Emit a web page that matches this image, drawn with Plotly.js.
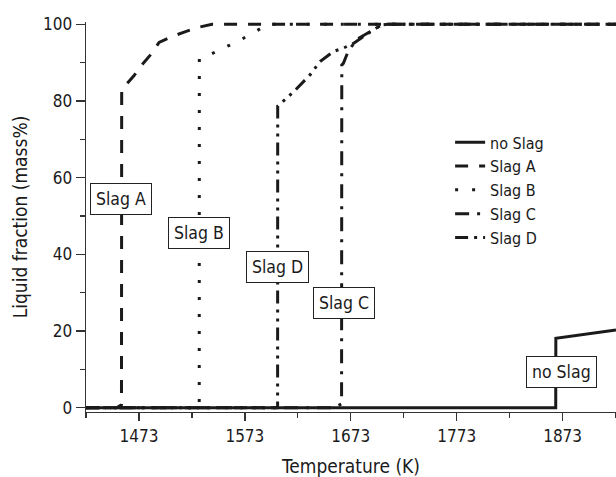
<!DOCTYPE html>
<html>
<head>
<meta charset="utf-8">
<script src="https://cdn.plot.ly/plotly-3.0.1.min.js"></script>
<style>
  html, body { margin: 0; padding: 0; background: #fff; }
  #chart { width: 616px; height: 477px; }
</style>
</head>
<body>
<div id="chart"></div>
<script>
// Series names
const seriesNames = ['no Slag', 'Slag A', 'Slag B', 'Slag C', 'Slag D'];

// Temperature (K) and liquid fraction (mass%) per series
const noSlagT = [1423, 1866.5, 1866.6, 1923.4];
const noSlagV = [0, 0, 18.1, 20.3];

const slagAT = [1423, 1452, 1456.5, 1456.7, 1460, 1468, 1476, 1485, 1492, 1504, 1517, 1529, 1542, 1923.4];
const slagAV = [0, 0, 0.8, 83, 84, 86.5, 89.5, 92.4, 95.3, 96.8, 98.1, 99.2, 100, 100];

const slagBT = [1423, 1529.9, 1530.0, 1536, 1550, 1564, 1579, 1591, 1595, 1923.4];
const slagBV = [0, 0, 91, 91.5, 93.5, 95.2, 97.5, 99.4, 100, 100];

const slagCT = [1423, 1656, 1664.3, 1664.5, 1666, 1671, 1680, 1692, 1702, 1708, 1923.4];
const slagCV = [0, 0, 1.0, 89.4, 89.8, 93.3, 96.3, 98.1, 99.8, 100, 100];

const slagDT = [1423, 1603.9, 1604.0, 1605.5, 1619, 1634.5, 1644, 1656.5, 1666, 1675.5, 1694, 1702, 1708, 1923.4];
const slagDV = [0, 0, 78.7, 79, 82.4, 86.8, 90.3, 92.9, 93.8, 95.0, 98.5, 99.8, 100, 100];

// Label boxes on the curves
const labelTexts = ['Slag A', 'Slag B', 'Slag D', 'Slag C', 'no Slag'];
const labelT = [1456.0, 1530.1, 1603.8, 1666.6, 1871.5];
const labelV = [54.4, 45.5, 36.6, 27.4, 9.3];

// Axis ticks
const xTickVals = [1473, 1573, 1673, 1773, 1873];
const yTickVals = [0, 20, 40, 60, 80, 100];

const FONT = "'DejaVu Sans Condensed', 'Liberation Sans', Arial, sans-serif";
const INK = '#1a1a1a';

const xs = [noSlagT, slagAT, slagBT, slagCT, slagDT];
const ys = [noSlagV, slagAV, slagBV, slagCV, slagDV];
const dashes = ['solid', '13px,11px', '3px,14px', '14px,8px,3px,8px', '13px,6px,3px,6px,3px,6px'];

const traces = seriesNames.map((name, i) => ({
  type: 'scatter',
  mode: 'lines',
  name: name,
  x: xs[i],
  y: ys[i],
  line: { color: INK, width: 3, dash: dashes[i] },
  hoverinfo: 'skip'
}));

const annotations = labelTexts.map((t, i) => ({
  x: labelT[i], y: labelV[i], xref: 'x', yref: 'y',
  text: t, showarrow: false,
  font: { family: FONT, size: 17.5, color: INK },
  bgcolor: '#ffffff', bordercolor: '#222', borderwidth: 1, borderpad: 5,
  xanchor: 'center', yanchor: 'middle'
}));

const layout = {
  width: 616, height: 477,
  margin: { l: 86, r: 0, t: 22, b: 65, pad: 0 },
  paper_bgcolor: '#fff', plot_bgcolor: '#fff',
  font: { family: FONT, size: 17, color: INK },
  showlegend: true,
  legend: {
    x: 0.687, y: 0.735, xanchor: 'left', yanchor: 'top',
    bgcolor: 'rgba(0,0,0,0)', borderwidth: 0,
    font: { family: FONT, size: 16, color: INK }
  },
  xaxis: {
    range: [1423.0, 1923.4],
    tickvals: xTickVals, ticktext: xTickVals.map(String),
    ticks: 'outside', ticklen: 8, tickwidth: 1.3, tickcolor: '#333',
    showline: true, linecolor: '#333', linewidth: 1.3,
    showgrid: false, zeroline: false,
    minor: { dtick: 50, tick0: 1423, ticks: 'outside', ticklen: 5, tickwidth: 1.3, tickcolor: '#333', showgrid: false },
    tickfont: { family: FONT, size: 17, color: INK },
    title: { text: 'Temperature (K)', font: { family: FONT, size: 19, color: INK }, standoff: 15 }
  },
  yaxis: {
    range: [-1.1, 100.6],
    tickvals: yTickVals, ticktext: yTickVals.map(String),
    ticks: 'outside', ticklen: 9, tickwidth: 1.3, tickcolor: '#333',
    showline: true, linecolor: '#333', linewidth: 1.3,
    showgrid: false, zeroline: false,
    minor: { dtick: 10, tick0: 0, ticks: 'outside', ticklen: 5, tickwidth: 1.3, tickcolor: '#333', showgrid: false },
    tickfont: { family: FONT, size: 17, color: INK },
    title: { text: 'Liquid fraction (mass%)', font: { family: FONT, size: 19, color: INK }, standoff: 10 }
  },
  annotations: annotations
};

Plotly.newPlot('chart', traces, layout, { staticPlot: true, displayModeBar: false });
</script>
</body>
</html>
